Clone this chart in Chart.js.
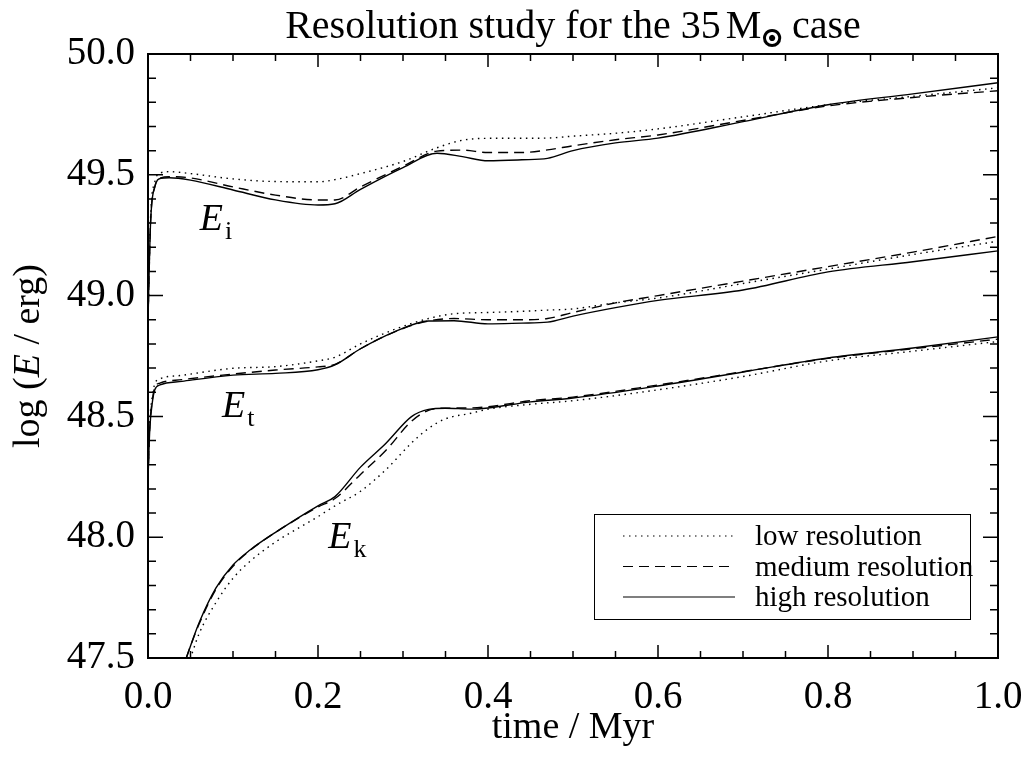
<!DOCTYPE html>
<html>
<head>
<meta charset="utf-8">
<script src="https://cdn.jsdelivr.net/npm/chart.js@4.4.1/dist/chart.umd.min.js"></script>
<style>
  body { margin: 0; background: #fff; }
  #wrap { width: 1027px; height: 758px; position: relative; }
</style>
</head>
<body>
<div id="wrap"><canvas id="chart"></canvas></div>
<script>
// ionisation energy E_i
var tIon    = [0, 0.003, 0.008, 0.015, 0.025, 0.05, 0.1, 0.15, 0.2, 0.22, 0.25, 0.3, 0.34, 0.37, 0.4, 0.44, 0.47, 0.5, 0.55, 0.6, 0.7, 0.8, 0.9, 1.0];
var ionLow  = [48.90, 49.32, 49.47, 49.508, 49.513, 49.505, 49.483, 49.472, 49.471, 49.48, 49.505, 49.555, 49.612, 49.643, 49.651, 49.651, 49.652, 49.66, 49.672, 49.69, 49.74, 49.79, 49.825, 49.86];
var ionMed  = [48.90, 49.30, 49.45, 49.487, 49.492, 49.487, 49.45, 49.416, 49.396, 49.396, 49.45, 49.535, 49.598, 49.602, 49.592, 49.592, 49.603, 49.62, 49.645, 49.665, 49.725, 49.785, 49.82, 49.848];
var ionHigh = [48.90, 49.30, 49.45, 49.485, 49.488, 49.478, 49.437, 49.396, 49.375, 49.38, 49.44, 49.53, 49.589, 49.575, 49.558, 49.562, 49.568, 49.60, 49.632, 49.652, 49.72, 49.79, 49.835, 49.881];

// thermal energy E_t
var tTh    = [0, 0.002, 0.005, 0.008, 0.014, 0.04, 0.1, 0.15, 0.2, 0.22, 0.25, 0.29, 0.33, 0.36, 0.4, 0.44, 0.47, 0.5, 0.55, 0.6, 0.7, 0.8, 0.9, 1.0];
var thLow  = [48.25, 48.47, 48.58, 48.635, 48.655, 48.67, 48.699, 48.706, 48.73, 48.745, 48.80, 48.86, 48.905, 48.925, 48.93, 48.935, 48.94, 48.945, 48.97, 48.99, 49.05, 49.11, 49.17, 49.225];
var thMed  = [48.24, 48.45, 48.565, 48.62, 48.638, 48.652, 48.675, 48.692, 48.705, 48.715, 48.78, 48.85, 48.895, 48.905, 48.90, 48.90, 48.905, 48.93, 48.97, 49.00, 49.06, 49.12, 49.18, 49.245];
var thHigh = [48.24, 48.44, 48.555, 48.61, 48.63, 48.645, 48.671, 48.678, 48.693, 48.713, 48.78, 48.85, 48.895, 48.896, 48.883, 48.886, 48.89, 48.915, 48.95, 48.98, 49.023, 49.098, 49.14, 49.185];

// kinetic energy E_k
var tKin    = [0.045, 0.05, 0.06, 0.08, 0.1, 0.12, 0.15, 0.2, 0.22, 0.25, 0.28, 0.31, 0.33, 0.35, 0.38, 0.4, 0.45, 0.5, 0.6, 0.7, 0.8, 0.9, 1.0];
var kinLow  = [47.45, 47.50, 47.60, 47.73, 47.83, 47.90, 47.98, 48.085, 48.13, 48.19, 48.28, 48.39, 48.45, 48.49, 48.513, 48.53, 48.55, 48.565, 48.61, 48.665, 48.73, 48.77, 48.81];
var kinMed  = [47.50, 47.55, 47.64, 47.785, 47.88, 47.945, 48.02, 48.125, 48.16, 48.26, 48.36, 48.48, 48.525, 48.534, 48.535, 48.54, 48.565, 48.58, 48.63, 48.685, 48.74, 48.78, 48.82];
var kinHigh = [47.50, 47.55, 47.645, 47.79, 47.885, 47.947, 48.02, 48.13, 48.168, 48.29, 48.389, 48.499, 48.529, 48.534, 48.53, 48.535, 48.56, 48.576, 48.626, 48.684, 48.742, 48.783, 48.829];

var xTickValues = [0, 0.2, 0.4, 0.6, 0.8, 1.0];
var yTickValues = [47.5, 48.0, 48.5, 49.0, 49.5, 50.0];
var resLabels = ['low resolution', 'medium resolution', 'high resolution'];

var SERIF = '"Liberation Serif", "Times New Roman", serif';
var dashes = [[1.5, 4.5], [10, 6], []];

function pts(t, v) {
  return t.map(function (x, i) { return { x: x, y: v[i] }; });
}

var groups = [
  [tIon, ionLow, ionMed, ionHigh],
  [tTh, thLow, thMed, thHigh],
  [tKin, kinLow, kinMed, kinHigh]
];
var datasets = [];
groups.forEach(function (g) {
  for (var r = 0; r < 3; r++) {
    datasets.push({
      label: resLabels[r],
      data: pts(g[0], g[r + 1]),
      borderColor: '#000',
      borderWidth: 1.4,
      borderDash: dashes[r],
      pointRadius: 0,
      fill: false,
      cubicInterpolationMode: 'monotone',
      clip: 0
    });
  }
});

// frame + inward ticks on all four sides
var framePlugin = {
  id: 'frame',
  afterDatasetsDraw: function (chart) {
    var ctx = chart.ctx, a = chart.chartArea, sx = chart.scales.x, sy = chart.scales.y;
    ctx.save();
    ctx.strokeStyle = '#000';
    ctx.lineWidth = 2;
    ctx.strokeRect(a.left, a.top, a.right - a.left, a.bottom - a.top);
    ctx.lineWidth = 1.5;
    ctx.beginPath();
    var i, v, p, len;
    for (i = 0; i <= 20; i++) {
      v = i * 0.05;
      p = sx.getPixelForValue(v);
      len = (i % 4 === 0) ? 13 : 7;
      ctx.moveTo(p, a.bottom); ctx.lineTo(p, a.bottom - len);
      ctx.moveTo(p, a.top); ctx.lineTo(p, a.top + len);
    }
    for (i = 0; i <= 25; i++) {
      v = 47.5 + i * 0.1;
      p = sy.getPixelForValue(v);
      len = (i % 5 === 0) ? 15 : 8;
      ctx.moveTo(a.left, p); ctx.lineTo(a.left + len, p);
      ctx.moveTo(a.right, p); ctx.lineTo(a.right - len, p);
    }
    ctx.stroke();
    ctx.restore();
  }
};

// titles, curve labels and the legend box
function drawPieces(ctx, pieces, x, y) {
  pieces.forEach(function (pc) {
    ctx.font = pc.font;
    ctx.fillText(pc.text, x + (pc.dx || 0), y + (pc.dy || 0));
    if (pc.heavy) {
      ctx.lineWidth = pc.heavy;
      ctx.strokeText(pc.text, x + (pc.dx || 0), y + (pc.dy || 0));
    }
    x += ctx.measureText(pc.text).width + (pc.dx || 0);
  });
}
function piecesWidth(ctx, pieces) {
  var w = 0;
  pieces.forEach(function (pc) { ctx.font = pc.font; w += ctx.measureText(pc.text).width + (pc.dx || 0); });
  return w;
}

var textPlugin = {
  id: 'texts',
  afterDraw: function (chart) {
    var ctx = chart.ctx, a = chart.chartArea, sx = chart.scales.x, sy = chart.scales.y;
    ctx.save();
    ctx.fillStyle = '#000';
    ctx.strokeStyle = '#000';
    ctx.textBaseline = 'alphabetic';
    ctx.textAlign = 'left';

    // main title
    var title = [
      { text: 'Resolution study for the 35', font: '40px ' + SERIF },
      { text: 'M', font: '40px ' + SERIF, dx: 5 },
      { text: '\u2609', font: 'bold 22px "DejaVu Sans"', dy: 8, dx: 1, heavy: 2.2 },
      { text: ' case', font: '40px ' + SERIF }
    ];
    var cx = (a.left + a.right) / 2;
    drawPieces(ctx, title, cx - piecesWidth(ctx, title) / 2, 38);

    // x axis title
    var xt = [{ text: 'time / Myr', font: '38px ' + SERIF }];
    drawPieces(ctx, xt, cx - piecesWidth(ctx, xt) / 2, 738);

    // y axis title (rotated)
    var yt = [
      { text: 'log (', font: '38px ' + SERIF },
      { text: 'E', font: 'italic 38px ' + SERIF },
      { text: ' / erg)', font: '38px ' + SERIF }
    ];
    ctx.save();
    ctx.translate(39, (a.top + a.bottom) / 2);
    ctx.rotate(-Math.PI / 2);
    drawPieces(ctx, yt, -piecesWidth(ctx, yt) / 2, 0);
    ctx.restore();

    // curve labels
    var labs = [['i', 0.061, 49.271], ['t', 0.087, 48.497], ['k', 0.212, 47.955]];
    labs.forEach(function (l) {
      drawPieces(ctx, [
        { text: 'E', font: 'italic 38px ' + SERIF },
        { text: l[0], font: '26px ' + SERIF, dx: 2, dy: 9 }
      ], sx.getPixelForValue(l[1]), sy.getPixelForValue(l[2]));
    });

    // legend
    var bx = a.right - 404, by = a.bottom - 144;
    ctx.lineWidth = 1;
    ctx.strokeRect(bx + 0.5, by + 0.5, 376, 105);
    for (var r = 0; r < 3; r++) {
      var ly = by + 22 + r * 30.5;
      ctx.beginPath();
      ctx.lineWidth = 1.2;
      ctx.setLineDash(chart.data.datasets[r].borderDash);
      ctx.moveTo(bx + 29, ly);
      ctx.lineTo(bx + 141, ly);
      ctx.stroke();
      ctx.setLineDash([]);
      ctx.font = '29px ' + SERIF;
      ctx.fillText(chart.data.datasets[r].label, bx + 161, ly + 9);
    }
    ctx.restore();
  }
};

var ctx = document.getElementById('chart').getContext('2d');
var myChart = new Chart(ctx, {
  type: 'line',
  data: { datasets: datasets },
  options: {
    responsive: true,
    maintainAspectRatio: false,
    animation: false,
    layout: { padding: { top: 54, right: 29, left: 0, bottom: 0 } },
    plugins: { legend: { display: false }, tooltip: { enabled: false } },
    scales: {
      x: {
        type: 'linear',
        min: 0, max: 1,
        grid: { display: false, drawTicks: false },
        border: { display: false },
        afterBuildTicks: function (s) { s.ticks = xTickValues.map(function (v) { return { value: v }; }); },
        afterFit: function (s) { s.height = 100; s.paddingLeft = 0; s.paddingRight = 0; },
        ticks: {
          padding: 16,
          color: '#000',
          font: { family: SERIF, size: 39 },
          maxRotation: 0,
          callback: function (v) { return Number(v).toFixed(1); }
        }
      },
      y: {
        type: 'linear',
        min: 47.5, max: 50.0,
        grid: { display: false, drawTicks: false },
        border: { display: false },
        afterBuildTicks: function (s) { s.ticks = yTickValues.map(function (v) { return { value: v }; }); },
        afterFit: function (s) { s.width = 148; s.paddingTop = 0; s.paddingBottom = 0; },
        ticks: {
          padding: 13,
          color: '#000',
          font: { family: SERIF, size: 39 },
          callback: function (v) { return Number(v).toFixed(1); }
        }
      }
    }
  },
  plugins: [framePlugin, textPlugin]
});
</script>
</body>
</html>
